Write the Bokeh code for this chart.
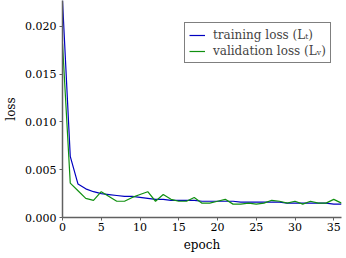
from bokeh.plotting import figure
from bokeh.models import Range1d, Legend, LegendItem, FixedTicker, CustomJSTickFormatter
from bokeh.embed import file_html
from bokeh.resources import INLINE

epochs = list(range(37))
training_loss = [0.0227, 0.0064, 0.0035, 0.0030, 0.0027, 0.0025, 0.0024, 0.0023, 0.0022, 0.0022,
                 0.0021, 0.0020, 0.0019, 0.0019, 0.0018, 0.0018, 0.0018, 0.0018, 0.0017, 0.0017,
                 0.0017, 0.0017, 0.0017, 0.0016, 0.0016, 0.0016, 0.0016, 0.0016, 0.0016, 0.0015,
                 0.0015, 0.0015, 0.0015, 0.0015, 0.0015, 0.0014, 0.0014]
validation_loss = [0.0182, 0.0036, 0.0028, 0.0020, 0.0018, 0.0027, 0.0022, 0.0017, 0.0017, 0.0021,
                   0.0024, 0.0027, 0.0017, 0.0024, 0.0019, 0.0017, 0.0017, 0.0021, 0.0015, 0.0015,
                   0.0017, 0.0019, 0.0014, 0.0014, 0.0015, 0.0014, 0.0015, 0.0018, 0.0017, 0.0015,
                   0.0017, 0.0014, 0.0017, 0.0015, 0.0015, 0.0019, 0.0015]
x_ticks = [0, 5, 10, 15, 20, 25, 30, 35]
y_ticks = [0.000, 0.005, 0.010, 0.015, 0.020]

FONT = "DejaVu Serif"

p = figure(width=342, height=254, output_backend="svg", toolbar_location=None,
           x_range=Range1d(0, 36), y_range=Range1d(0, 0.0227),
           min_border_left=62, min_border_right=1, min_border_top=0, min_border_bottom=32,
           x_axis_label="epoch", y_axis_label="loss")
p.outline_line_color = None
p.grid.visible = False
p.background_fill_color = "white"
p.border_fill_color = "white"

r1 = p.line(epochs, training_loss, line_color="#0000c0", line_width=1.2)
r2 = p.line(epochs, validation_loss, line_color="#109010", line_width=1.2)

p.xaxis.ticker = FixedTicker(ticks=x_ticks)
p.yaxis.ticker = FixedTicker(ticks=y_ticks)
p.yaxis.formatter = CustomJSTickFormatter(code="return tick.toFixed(3);")

for ax in (p.xaxis, p.yaxis):
    ax.axis_line_color = "#606060"
    ax.axis_line_width = 1.5
    ax.major_tick_line_color = "#606060"
    ax.major_tick_out = 3
    ax.major_tick_in = 0
    ax.minor_tick_out = 0
    ax.minor_tick_in = 0
    ax.major_label_text_font = FONT
    ax.major_label_text_font_size = "11px"
    ax.major_label_text_color = "black"
    ax.axis_label_text_font = FONT
    ax.axis_label_text_font_size = "12px"
    ax.axis_label_text_font_style = "normal"
    ax.axis_label_text_color = "black"
p.xaxis.major_label_standoff = 2
p.yaxis.major_label_standoff = 3
p.xaxis.axis_label_standoff = 4
p.yaxis.axis_label_standoff = 4

legend = Legend(items=[LegendItem(label="training loss (Lₜ)", renderers=[r1]),
                       LegendItem(label="validation loss (Lᵥ)", renderers=[r2])],
                location=(122, 154))
legend.label_text_font = FONT
legend.label_text_font_size = "12px"
legend.border_line_color = "black"
legend.border_line_width = 1
legend.background_fill_alpha = 1
legend.glyph_width = 16
legend.glyph_height = 14
legend.label_standoff = 8
legend.label_height = 15
legend.spacing = 1
legend.padding = 4
legend.margin = 0
p.add_layout(legend)

open("out.html", "w").write(file_html(p, INLINE))
